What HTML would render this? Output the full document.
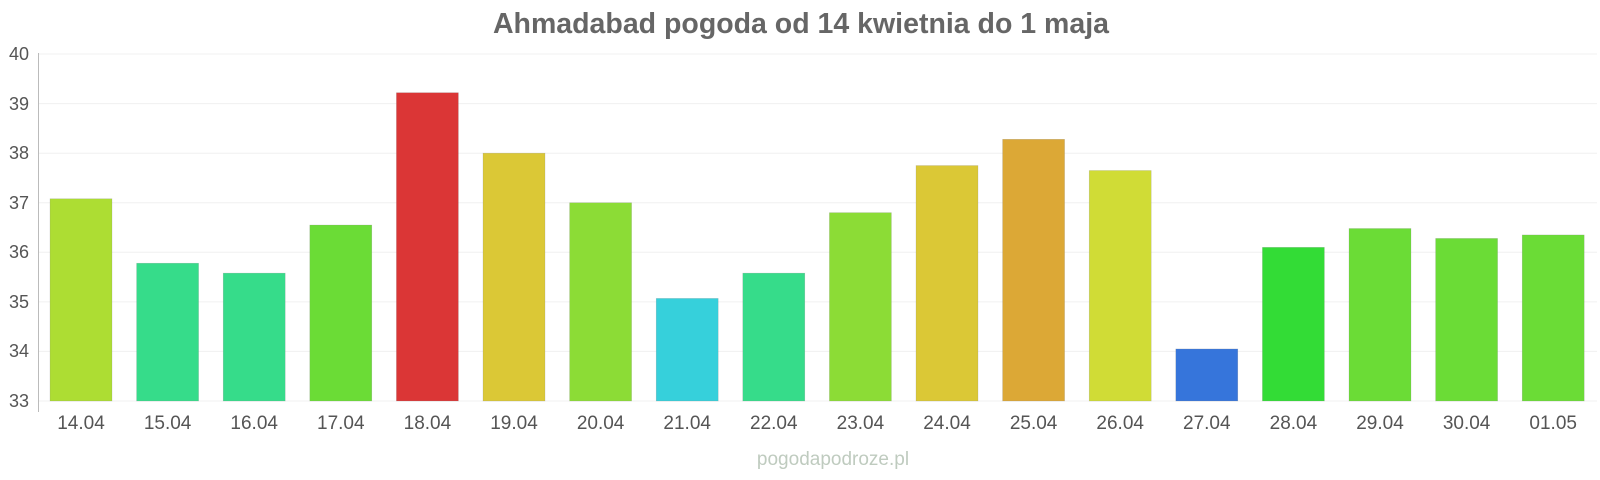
<!DOCTYPE html>
<html><head><meta charset="utf-8"><style>body{margin:0;background:#fff}svg{display:block}</style></head><body>
<svg width="1600" height="480" xmlns="http://www.w3.org/2000/svg" font-family="Liberation Sans, sans-serif">
<text x="801" y="33" text-anchor="middle" font-size="28.5" font-weight="bold" fill="#666">Ahmadabad pogoda od 14 kwietnia do 1 maja</text>
<g stroke="#f0f0f0" stroke-width="1">
<line x1="38" x2="1597" y1="54" y2="54"/><line x1="38" x2="1597" y1="103.6" y2="103.6"/><line x1="38" x2="1597" y1="153.2" y2="153.2"/><line x1="38" x2="1597" y1="202.7" y2="202.7"/><line x1="38" x2="1597" y1="252.3" y2="252.3"/><line x1="38" x2="1597" y1="301.9" y2="301.9"/><line x1="38" x2="1597" y1="351.4" y2="351.4"/><line x1="38" x2="1597" y1="401" y2="401"/>
</g>
<line x1="38.5" x2="38.5" y1="53" y2="412" stroke="#bbb"/>
<g font-size="18" fill="#555" text-anchor="end">
<text x="29" y="60">40</text><text x="29" y="110">39</text><text x="29" y="159">38</text><text x="29" y="209">37</text><text x="29" y="258">36</text><text x="29" y="308">35</text><text x="29" y="357">34</text><text x="29" y="407">33</text>
</g>
<g id="bars" stroke-opacity="0.4" stroke="#888" stroke-width="0.5"></g>
<g id="labels" font-size="19" fill="#555" text-anchor="middle"></g>
<text x="833" y="465" text-anchor="middle" font-size="19" fill="#bfcbbf">pogodapodroze.pl</text>
<script>
var v=[37.08,35.78,35.58,36.55,39.22,38.0,37.0,35.07,35.58,36.8,37.75,38.28,37.65,34.05,36.1,36.48,36.28,36.35];
var c=["#addd33","#36dc8a","#36dc8a","#6bdc36","#db3636","#dbc836","#8cdc36","#36d0db","#36dc8a","#8cdc36","#dbc836","#dca836","#d0dc36","#3675db","#33dc36","#6bdc36","#6bdc36","#6bdc36"];
var l=["14.04","15.04","16.04","17.04","18.04","19.04","20.04","21.04","22.04","23.04","24.04","25.04","26.04","27.04","28.04","29.04","30.04","01.05"];
var b=document.getElementById("bars"),t=document.getElementById("labels"),ns="http://www.w3.org/2000/svg";
for(var i=0;i<18;i++){var x=50+86.6*i,y=401-(v[i]-33)*49.57;
var r=document.createElementNS(ns,"rect");r.setAttribute("x",x);r.setAttribute("y",y);r.setAttribute("width",62);r.setAttribute("height",401-y);r.setAttribute("fill",c[i]);b.appendChild(r);
var s=document.createElementNS(ns,"text");s.setAttribute("x",x+31);s.setAttribute("y",429);s.textContent=l[i];t.appendChild(s);}
</script>
</svg>
</body></html>
